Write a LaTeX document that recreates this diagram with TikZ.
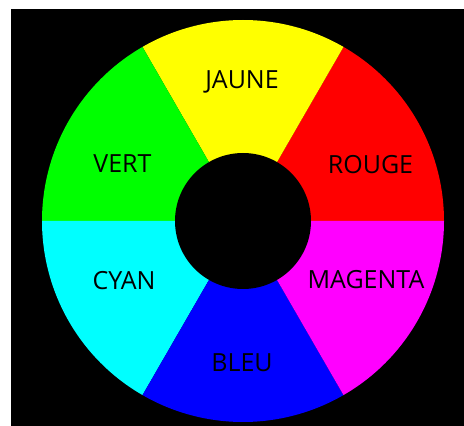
\documentclass[tikz,border=0pt]{standalone}
\usepackage{fontspec}
\setmainfont{Open Sans}
\definecolor{pred}{RGB}{255,0,0}
\definecolor{pyellow}{RGB}{255,255,0}
\definecolor{pgreen}{RGB}{0,255,0}
\definecolor{pcyan}{RGB}{0,255,255}
\definecolor{pblue}{RGB}{0,0,255}
\definecolor{pmagenta}{RGB}{255,0,255}
\begin{document}
\begin{tikzpicture}[x=1pt,y=1pt,
  lab/.style={font=\fontsize{25}{25}\selectfont, text=black, inner sep=0pt, anchor=center}]
\useasboundingbox (0,0) rectangle (464,426);
\fill[white] (0,0) rectangle (464,426);
\fill[black] (11,0) rectangle (464,417);
\coordinate (c) at (243,205);
\foreach \a/\col in {0/pred,60/pyellow,120/pgreen,180/pcyan,240/pblue,300/pmagenta}{
  \fill[\col] (c) -- ++(\a:201) arc[start angle=\a, end angle=\a+60, radius=201] -- cycle;
}
\fill[black] (c) circle[radius=68];
\node[lab] (jaune) at (242,344) {JAUNE};
\node[lab] (vert) at (122.5,262) {VERT};
\node[lab] (rouge) at (370.5,261) {ROUGE};
\node[lab] (cyan) at (124,145) {CYAN};
\node[lab] (magenta) at (366,146) {MAGENTA};
\node[lab] (bleu) at (242,63.5) {BLEU};
\end{tikzpicture}
\end{document}
